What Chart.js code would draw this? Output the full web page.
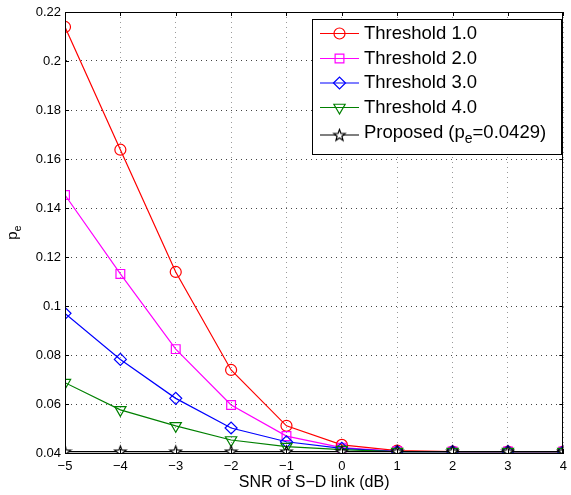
<!DOCTYPE html>
<html>
<head>
<meta charset="utf-8">
<script src="https://cdn.jsdelivr.net/npm/chart.js@4/dist/chart.umd.min.js"></script>
<style>
  html, body { margin: 0; padding: 0; background: #fff; }
  #wrap { width: 571px; height: 495px; }
</style>
</head>
<body>
<div id="wrap"><canvas id="pe-chart" width="571" height="495"></canvas></div>
<script>
// values
const snr = [-5, -4, -3, -2, -1, 0, 1, 2, 3, 4];
const thr1 = [0.2139, 0.1638, 0.1139, 0.0739, 0.0511, 0.0433, 0.0410, 0.0406, 0.0406, 0.0406];
const thr2 = [0.1453, 0.1131, 0.0824, 0.0596, 0.0469, 0.0422, 0.0407, 0.0406, 0.0406, 0.0406];
const thr3 = [0.0970, 0.0782, 0.0623, 0.0502, 0.0446, 0.0419, 0.0406, 0.0406, 0.0406, 0.0406];
const thr4 = [0.0687, 0.0576, 0.0511, 0.0453, 0.0426, 0.0414, 0.0406, 0.0406, 0.0406, 0.0406];
const proposed = [0.0406, 0.0406, 0.0406, 0.0406, 0.0406, 0.0406, 0.0406, 0.0406, 0.0406, 0.0406];
const seriesNames = ['Threshold 1.0', 'Threshold 2.0', 'Threshold 3.0', 'Threshold 4.0', 'Proposed'];
const proposedPe = '=0.0429)';
const yTicks = [0.04, 0.06, 0.08, 0.1, 0.12, 0.14, 0.16, 0.18, 0.2, 0.22];

const FONT = "'Liberation Sans', Arial, Helvetica, sans-serif";
Chart.defaults.font.family = FONT;
Chart.defaults.color = '#000';

// pentagram marker (Chart.js 'star' is an asterisk)
function makeStar(r) {
  const c = document.createElement('canvas');
  const s = Math.ceil(r * 2 + 3);
  c.width = s; c.height = s;
  const g = c.getContext('2d');
  const cx = s / 2, cy = s / 2 + 0.5;
  g.beginPath();
  for (let i = 0; i < 10; i++) {
    const rad = i % 2 === 0 ? r : r * 0.42;
    const a = -Math.PI / 2 + i * Math.PI / 5;
    const px = cx + rad * Math.cos(a), py = cy + rad * Math.sin(a);
    if (i === 0) g.moveTo(px, py); else g.lineTo(px, py);
  }
  g.closePath();
  g.fillStyle = '#fff';
  g.fill();
  g.lineWidth = 1.2;
  g.strokeStyle = '#000';
  g.stroke();
  return c;
}
const starImg = makeStar(6);

const toXY = arr => arr.map((v, i) => ({ x: snr[i], y: v }));

function series(label, data, color, style, radius, rotation, order) {
  return {
    label: label,
    data: toXY(data),
    borderColor: color,
    borderWidth: 1.2,
    pointStyle: style,
    pointRadius: radius,
    pointRotation: rotation,
    pointBorderColor: color,
    pointBackgroundColor: 'rgba(0,0,0,0)',
    pointBorderWidth: 1.2,
    tension: 0,
    fill: false,
    order: order
  };
}

const datasets = [
  series(seriesNames[0], thr1, '#ff0000', 'circle', 5.5, 0, 5),
  series(seriesNames[1], thr2, '#ff00ff', 'rect', 6.2, 0, 4),
  series(seriesNames[2], thr3, '#0000ff', 'rectRot', 6, 0, 3),
  series(seriesNames[3], thr4, '#008000', 'triangle', 6.5, 180, 2),
  series(seriesNames[4], proposed, '#000000', starImg, 6, 0, 1)
];

// box, inner ticks, y label and legend (MATLAB style)
const matlabDecor = {
  id: 'matlabDecor',
  afterDraw(chart) {
    const ctx = chart.ctx;
    const a = chart.chartArea;
    const xs = chart.scales.x, ys = chart.scales.y;
    ctx.save();
    ctx.strokeStyle = '#000';
    ctx.lineWidth = 1;
    ctx.strokeRect(Math.round(a.left) + 0.5, Math.round(a.top) + 0.5,
      Math.round(a.right - a.left) - 1, Math.round(a.bottom - a.top));
    const tl = 4;
    ctx.beginPath();
    snr.forEach(v => {
      const px = Math.round(xs.getPixelForValue(v)) + 0.5;
      ctx.moveTo(px, a.bottom); ctx.lineTo(px, a.bottom - tl);
      ctx.moveTo(px, a.top); ctx.lineTo(px, a.top + tl);
    });
    yTicks.forEach(v => {
      const py = Math.round(ys.getPixelForValue(v)) + 0.5;
      ctx.moveTo(a.left, py); ctx.lineTo(a.left + tl, py);
      ctx.moveTo(a.right, py); ctx.lineTo(a.right - tl, py);
    });
    ctx.stroke();

    // y axis title p_e
    ctx.save();
    ctx.translate(17, (a.top + a.bottom) / 2);
    ctx.rotate(-Math.PI / 2);
    ctx.fillStyle = '#000';
    ctx.textBaseline = 'alphabetic';
    ctx.font = '15px ' + FONT;
    const wp = ctx.measureText('p').width;
    const we = (ctx.font = '11px ' + FONT, ctx.measureText('e').width);
    ctx.font = '15px ' + FONT;
    ctx.textAlign = 'left';
    ctx.fillText('p', -(wp + we) / 2, 0);
    ctx.font = '11px ' + FONT;
    ctx.fillText('e', -(wp + we) / 2 + wp, 4);
    ctx.restore();

    // legend
    const bx = 312, by = 19, bw = 249, bh = 135;
    ctx.fillStyle = '#fff';
    ctx.fillRect(bx, by, bw, bh);
    ctx.strokeStyle = '#000';
    ctx.lineWidth = 1;
    ctx.strokeRect(bx + 0.5, by + 0.5, bw, bh);
    const rows = [33.5, 58.5, 83, 107.5, 135];
    datasets.forEach((ds, i) => {
      const y = rows[i];
      ctx.strokeStyle = ds.borderColor;
      ctx.lineWidth = ds.borderWidth;
      ctx.beginPath();
      ctx.moveTo(320, y); ctx.lineTo(359, y);
      ctx.stroke();
      ctx.fillStyle = ds.pointBackgroundColor;
      Chart.helpers.drawPoint(ctx, {
        pointStyle: ds.pointStyle,
        radius: ds.pointRadius,
        rotation: ds.pointRotation,
        borderWidth: ds.pointBorderWidth
      }, 339.5, y);
      ctx.fillStyle = '#000';
      ctx.textBaseline = 'middle';
      ctx.textAlign = 'left';
      ctx.font = '18.5px ' + FONT;
      if (i < 4) {
        ctx.fillText(ds.label, 364, y);
      } else {
        let tx = 364;
        const ty = y - 2;
        const t1 = ds.label + ' (p';
        ctx.fillText(t1, tx, ty);
        tx += ctx.measureText(t1).width;
        ctx.font = '14px ' + FONT;
        ctx.fillText('e', tx, ty + 6);
        tx += ctx.measureText('e').width;
        ctx.font = '18.5px ' + FONT;
        ctx.fillText(proposedPe, tx, ty);
      }
    });
    ctx.restore();
  }
};

const chartConfig = {
  type: 'line',
  data: { datasets: datasets },
  options: {
    responsive: false,
    animation: false,
    layout: { padding: { top: 12, right: 4, left: 0, bottom: 0 } },
    plugins: { legend: { display: false }, tooltip: { enabled: false } },
    scales: {
      x: {
        type: 'linear',
        min: -5,
        max: 4,
        afterFit: s => { s.height = 42; s.paddingLeft = 0; s.paddingRight = 0; },
        ticks: {
          stepSize: 1,
          padding: 6,
          maxRotation: 0,
          font: { size: 13 },
          color: '#000',
          callback: v => String(v).replace('-', '\u2212')
        },
        grid: { color: '#9a9a9a', lineWidth: 1, drawTicks: false },
        border: { color: '#000', width: 1, dash: [1, 4] },
        title: {
          display: true,
          text: 'SNR of S\u2212D link (dB)',
          font: { size: 16 },
          color: '#000',
          padding: { top: 0, bottom: 3 }
        }
      },
      y: {
        min: 0.04,
        max: 0.22,
        afterFit: s => { s.width = 65; s.paddingTop = 0; s.paddingBottom = 0; },
        afterBuildTicks: s => { s.ticks = yTicks.map(v => ({ value: v })); },
        ticks: {
          padding: 4,
          font: { size: 13 },
          color: '#000',
          callback: v => String(+v.toFixed(2))
        },
        grid: { color: '#444', lineWidth: 1, drawTicks: false },
        border: { color: '#000', width: 1, dash: [1, 4] }
      }
    }
  },
  plugins: [matlabDecor]
};

const chartElement = document.getElementById('pe-chart');
const peChart = new Chart(chartElement, chartConfig);
</script>
</body>
</html>
